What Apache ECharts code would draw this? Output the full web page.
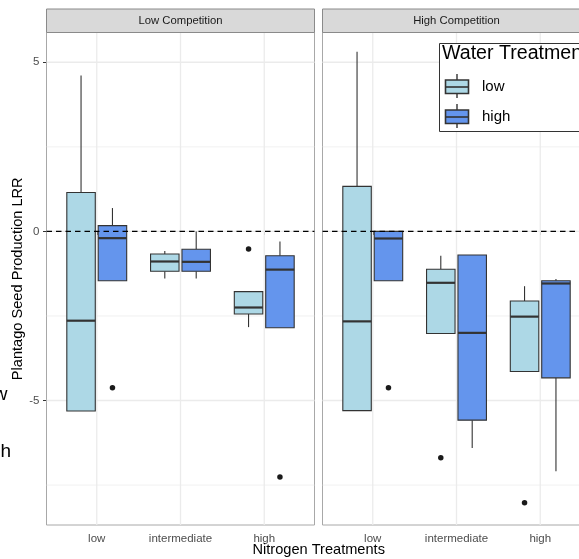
<!DOCTYPE html>
<html><head><meta charset="utf-8">
<script src="https://cdn.jsdelivr.net/npm/echarts@6/dist/echarts.min.js"></script>
<style>html,body{margin:0;padding:0;background:#fff;overflow:hidden;width:579px;height:559px}#c{width:600px;height:559px}</style>
</head><body><div id="c"></div>
<script>
// ---------- data ----------
const categories = ['low', 'intermediate', 'high'];
const panels = ['Low Competition', 'High Competition'];
const waterLevels = ['low', 'high'];
const yTickValues = [-5, 0, 5];
const yMajorGrid = [-5, 0, 5];
const yMinorGrid = [-7.5, -2.5, 2.5];
const referenceLine = [0];
// each row: [min, q1, median, q3, max] for nitrogen low / intermediate / high
const lowComp_lowWater  = [[-5.31, -5.31, -2.64, 1.15, 4.61], [-1.39, -1.18, -0.89, -0.67, -0.58], [-2.83, -2.44, -2.25, -1.78, -1.78]];
const lowComp_highWater = [[-1.46, -1.46, -0.20, 0.17, 0.69], [-1.39, -1.18, -0.90, -0.53, 0.00], [-2.85, -2.85, -1.13, -0.72, -0.30]];
const highComp_lowWater = [[-5.30, -5.30, -2.66, 1.33, 5.31], [-3.02, -3.02, -1.52, -1.12, -0.72], [-4.14, -4.14, -2.52, -2.06, -1.62]];
const highComp_highWater = [[-1.46, -1.46, -0.21, 0.00, 0.00], [-6.40, -5.58, -3.00, -0.70, -0.70], [-7.09, -4.33, -1.54, -1.46, -1.41]];
// outliers: [category index, value]
const lowComp_lowWater_out  = [[2, -0.52]];
const lowComp_highWater_out = [[0, -4.62], [2, -7.26]];
const highComp_lowWater_out = [[1, -6.69], [2, -8.02]];
const highComp_highWater_out = [[0, -4.62]];

// ---------- style / layout ----------
const COLORS = ['#ADD8E6', '#6495ED'];
const EDGE = '#333333';
const FONT = '"Liberation Sans", Arial, sans-serif';
const Y_MIN = -8.68, Y_MAX = 5.88;
const X_MIN = 0.4, X_MAX = 3.6;
const DODGE = 0.1875, BOXW = 0.34;
const GRID_TOP = 32.5, GRID_H = 492.5, GRID_W = 268;
const GRID_LEFTS = [46.5, 322.5];

const chart = echarts.init(document.getElementById('c'), null, {renderer: 'canvas'});

function boxRender(params, api) {
  const x = api.value(0);
  const pMin = api.coord([x, api.value(1)]);
  const pQ1 = api.coord([x, api.value(2)]);
  const pMd = api.coord([x, api.value(3)]);
  const pQ3 = api.coord([x, api.value(4)]);
  const pMax = api.coord([x, api.value(5)]);
  const hw = api.size([BOXW / 2, 0])[0];
  const fill = api.visual('color');
  return {type: 'group', children: [
    {type: 'line', shape: {x1: pQ3[0], y1: pQ3[1], x2: pMax[0], y2: pMax[1]}, style: {stroke: EDGE, lineWidth: 1.1}},
    {type: 'line', shape: {x1: pQ1[0], y1: pQ1[1], x2: pMin[0], y2: pMin[1]}, style: {stroke: EDGE, lineWidth: 1.1}},
    {type: 'rect', shape: {x: pQ3[0] - hw, y: pQ3[1], width: 2 * hw, height: pQ1[1] - pQ3[1]}, style: {fill: fill, stroke: EDGE, lineWidth: 1.1}},
    {type: 'line', shape: {x1: pMd[0] - hw, y1: pMd[1], x2: pMd[0] + hw, y2: pMd[1]}, style: {stroke: EDGE, lineWidth: 2.2}}
  ]};
}

// kind: 0 vertical major, 1 horizontal major, 2 horizontal minor, 3 dashed reference
function gridRender(params, api) {
  const v = api.value(0), kind = api.value(1);
  const cs = params.coordSys;
  let shape;
  if (kind === 0) {
    const px = api.coord([v, Y_MIN])[0];
    shape = {x1: px, y1: cs.y, x2: px, y2: cs.y + cs.height};
  } else {
    const py = api.coord([X_MIN, v])[1];
    shape = {x1: cs.x, y1: py, x2: cs.x + cs.width, y2: py};
  }
  const style = kind === 3 ? {stroke: '#000', lineWidth: 1.1, lineDash: [5.5, 4]}
    : {stroke: '#ebebeb', lineWidth: kind === 2 ? 0.7 : 1.3};
  return {type: 'line', shape: shape, style: style, silent: true};
}

const boxSets = [[lowComp_lowWater, lowComp_highWater], [highComp_lowWater, highComp_highWater]];
const outSets = [[lowComp_lowWater_out, lowComp_highWater_out], [highComp_lowWater_out, highComp_highWater_out]];

const grids = [], xAxes = [], yAxes = [], series = [];
panels.forEach((p, gi) => {
  grids.push({left: GRID_LEFTS[gi], top: GRID_TOP, width: GRID_W, height: GRID_H,
    show: true, backgroundColor: '#fff', borderColor: '#a8a8a8', borderWidth: 1, z: 0});
  xAxes.push({type: 'value', gridIndex: gi, min: X_MIN, max: X_MAX,
    axisLine: {show: false}, splitLine: {show: false},
    axisTick: {show: true, customValues: [1, 2, 3], length: 3.5, lineStyle: {color: '#333', width: 1}},
    axisLabel: {show: true, customValues: [1, 2, 3], margin: 7.5, color: '#4d4d4d', fontSize: 11.5, fontFamily: FONT,
      formatter: v => categories[Math.round(v) - 1] || ''}});
  yAxes.push({type: 'value', gridIndex: gi, min: Y_MIN, max: Y_MAX,
    axisLine: {show: false}, splitLine: {show: false},
    axisTick: {show: gi === 0, customValues: yTickValues, length: 3.5, lineStyle: {color: '#333', width: 1}},
    axisLabel: {show: gi === 0, customValues: yTickValues, margin: 7, color: '#4d4d4d', fontSize: 11.5, fontFamily: FONT,
      formatter: v => String(v)}});

  const gridData = [];
  [1, 2, 3].forEach(v => gridData.push([v, 0]));
  yMajorGrid.forEach(v => gridData.push([v, 1]));
  yMinorGrid.forEach(v => gridData.push([v, 2]));
  series.push({type: 'custom', xAxisIndex: gi, yAxisIndex: gi, renderItem: gridRender, data: gridData, silent: true, z: 1, clip: false});

  waterLevels.forEach((w, wi) => {
    const off = wi === 0 ? -DODGE : DODGE;
    series.push({type: 'custom', name: w, xAxisIndex: gi, yAxisIndex: gi, renderItem: boxRender, z: 2,
      itemStyle: {color: COLORS[wi]},
      encode: {x: 0, y: [1, 2, 3, 4, 5]},
      data: boxSets[gi][wi].map((r, ci) => [ci + 1 + off].concat(r))});
    series.push({type: 'scatter', xAxisIndex: gi, yAxisIndex: gi, z: 3, symbolSize: 5.5,
      itemStyle: {color: '#1a1a1a', opacity: 1},
      data: outSets[gi][wi].map(o => [o[0] + 1 + off, o[1]])});
  });

  series.push({type: 'custom', xAxisIndex: gi, yAxisIndex: gi, renderItem: gridRender, silent: true, z: 4,
    data: referenceLine.map(v => [v, 3])});
});

const graphics = [];
// facet strips
panels.forEach((p, gi) => {
  graphics.push({type: 'rect', shape: {x: GRID_LEFTS[gi], y: 9, width: GRID_W, height: GRID_TOP - 9},
    style: {fill: '#d9d9d9', stroke: '#8a8a8a', lineWidth: 1}, z: 10});
  graphics.push({type: 'text', x: GRID_LEFTS[gi] + GRID_W * (0.6 + 1) / 3.2, y: 20.8,
    style: {text: p, fill: '#1a1a1a', font: '11.3px ' + FONT, align: 'center', verticalAlign: 'middle'}, z: 11});
});
// axis titles
graphics.push({type: 'text', x: 318.7, y: 549.5,
  style: {text: 'Nitrogen Treatments', fill: '#000', font: '14.6px ' + FONT, align: 'center', verticalAlign: 'middle'}, z: 11});
graphics.push({type: 'text', x: 17.5, y: GRID_TOP + GRID_H / 2, rotation: Math.PI / 2,
  style: {text: 'Plantago Seed Production LRR', fill: '#000', font: '14.6px ' + FONT, align: 'center', verticalAlign: 'middle'}, z: 11});
// clipped remnants at left edge
graphics.push({type: 'text', x: 7.5, y: 395, style: {text: 'w', fill: '#000', font: '19px ' + FONT, align: 'right', verticalAlign: 'middle'}, z: 11});
graphics.push({type: 'text', x: 11, y: 452, style: {text: 'h', fill: '#000', font: '19px ' + FONT, align: 'right', verticalAlign: 'middle'}, z: 11});
// legend
graphics.push({type: 'rect', shape: {x: 439.5, y: 43.5, width: 200, height: 88},
  style: {fill: '#fff', stroke: '#333', lineWidth: 1}, z: 20});
graphics.push({type: 'text', x: 442, y: 53.5,
  style: {text: 'Water Treatment', fill: '#000', font: '19.6px ' + FONT, align: 'left', verticalAlign: 'middle'}, z: 21});
waterLevels.forEach((w, wi) => {
  const cy = 87 + wi * 30;
  graphics.push({type: 'line', shape: {x1: 457, y1: cy - 13, x2: 457, y2: cy + 11}, style: {stroke: EDGE, lineWidth: 1.4}, z: 21});
  graphics.push({type: 'rect', shape: {x: 445.5, y: cy - 7, width: 23, height: 13.5}, style: {fill: COLORS[wi], stroke: EDGE, lineWidth: 1.6}, z: 22});
  graphics.push({type: 'line', shape: {x1: 445.5, y1: cy, x2: 468.5, y2: cy}, style: {stroke: EDGE, lineWidth: 1.6}, z: 23});
  graphics.push({type: 'text', x: 482, y: cy,
    style: {text: w, fill: '#000', font: '15px ' + FONT, align: 'left', verticalAlign: 'middle'}, z: 21});
});

chart.setOption({
  animation: false,
  backgroundColor: '#fff',
  grid: grids, xAxis: xAxes, yAxis: yAxes, series: series, graphic: graphics
});
</script></body></html>
